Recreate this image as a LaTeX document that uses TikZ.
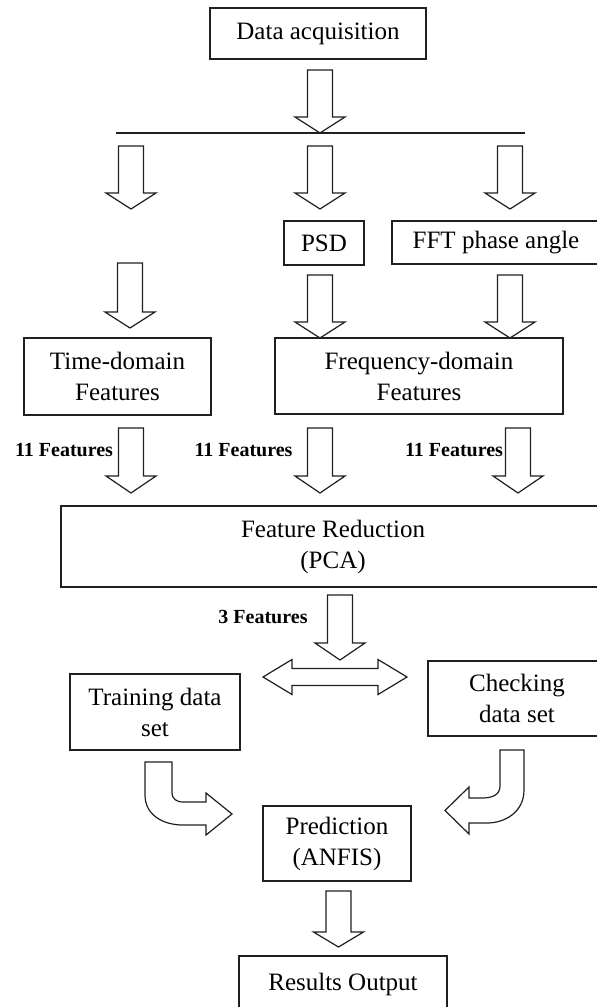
\documentclass[tikz,border=0pt]{standalone}
\usepackage{fontspec}
\setmainfont{Liberation Serif}
\newcommand{\dnarrow}[4]{\draw[blk] (#1-12.5,#2) -- (#1+12.5,#2) -- (#1+12.5,#3) -- (#1+25,#3) -- (#1,#4) -- (#1-25,#3) -- (#1-12.5,#3) -- cycle;}
\begin{document}
\begin{tikzpicture}[x=1pt,y=-1pt,
  box/.style={draw=black!88, line width=1.2pt, inner sep=0pt, align=center, font=\fontsize{25}{31}\selectfont},
  blk/.style={draw=black!88, line width=1.2pt, fill=white, line join=miter},
  lbl/.style={font=\bfseries\fontsize{20}{22}\selectfont, inner sep=0pt}]
\useasboundingbox (0,0) rectangle (597,1007);
% boxes
\node[box, minimum width=216, minimum height=51] (acq) at (318,33.5) {Data acquisition};
\node[box, minimum width=80, minimum height=44] (psd) at (324,243) {PSD};
\node[box, minimum width=208, minimum height=43] (fft) at (496,242.5) {FFT phase angle};
\node[box, minimum width=187, minimum height=77] (time) at (117.5,376.5) {Time-domain\\Features};
\node[box, minimum width=288, minimum height=76] (freq) at (419,376) {Frequency-domain\\Features};
\node[box, minimum width=544, minimum height=81] (fr) at (333,546.5) {Feature Reduction\\(PCA)};
\node[box, minimum width=170, minimum height=76] (train) at (155,712) {Training data\\set};
\node[box, minimum width=178, minimum height=75] (check) at (517,698.5) {Checking\\data set};
\node[box, minimum width=148, minimum height=75] (pred) at (337,843.5) {Prediction\\(ANFIS)};
\node[box, minimum width=208, minimum height=56] (res) at (343,984) {\raisebox{4pt}{Results Output}};
% splitter line
\coordinate (bl) at (116,133);
\coordinate (br) at (525,133);
\draw[draw=black!88, line width=1.2pt] (bl) -- (br);
% block arrows
\dnarrow{320}{70}{117}{133}
\dnarrow{131}{146}{193}{209}
\dnarrow{320}{146}{193}{209}
\dnarrow{510}{146}{193}{209}
\dnarrow{130}{263}{312}{328}
\dnarrow{320}{275}{322}{338}
\dnarrow{510}{275}{322}{338}
\dnarrow{131}{428}{476}{493}
\dnarrow{320}{428}{476}{493}
\dnarrow{518}{428}{476}{493}
\dnarrow{340}{595}{643}{660}
\dnarrow{338.5}{891}{932}{947}
% double arrow
\draw[blk] (263,677) -- (292,659.5) -- (292,668.5) -- (378,668.5) -- (378,659.5) -- (407,677) -- (378,694.5) -- (378,685.5) -- (292,685.5) -- (292,694.5) -- cycle;
% curved arrows
\draw[blk] (145,762) -- (172,762) -- (172,792) .. controls (172,799) and (176,802) .. (184,802) -- (206,802) -- (206,793) -- (232,814) -- (206,835) -- (206,825) -- (183,825) .. controls (163,825) and (145,815) .. (145,795) -- cycle;
\draw[blk] (500,750) -- (524,750) -- (524,790) .. controls (524,812) and (505,823) .. (487,823) -- (469,823) -- (469,834) -- (445,810.5) -- (469,787) -- (469,798) -- (482,798) .. controls (492,798) and (500,795) .. (500,786) -- cycle;
% labels
\node[lbl] (l1) at (64,450) {11 Features};
\node[lbl] (l2) at (243.5,450) {11 Features};
\node[lbl] (l3) at (454,450) {11 Features};
\node[lbl] (l4) at (263,617) {3 Features};
\end{tikzpicture}
\end{document}
